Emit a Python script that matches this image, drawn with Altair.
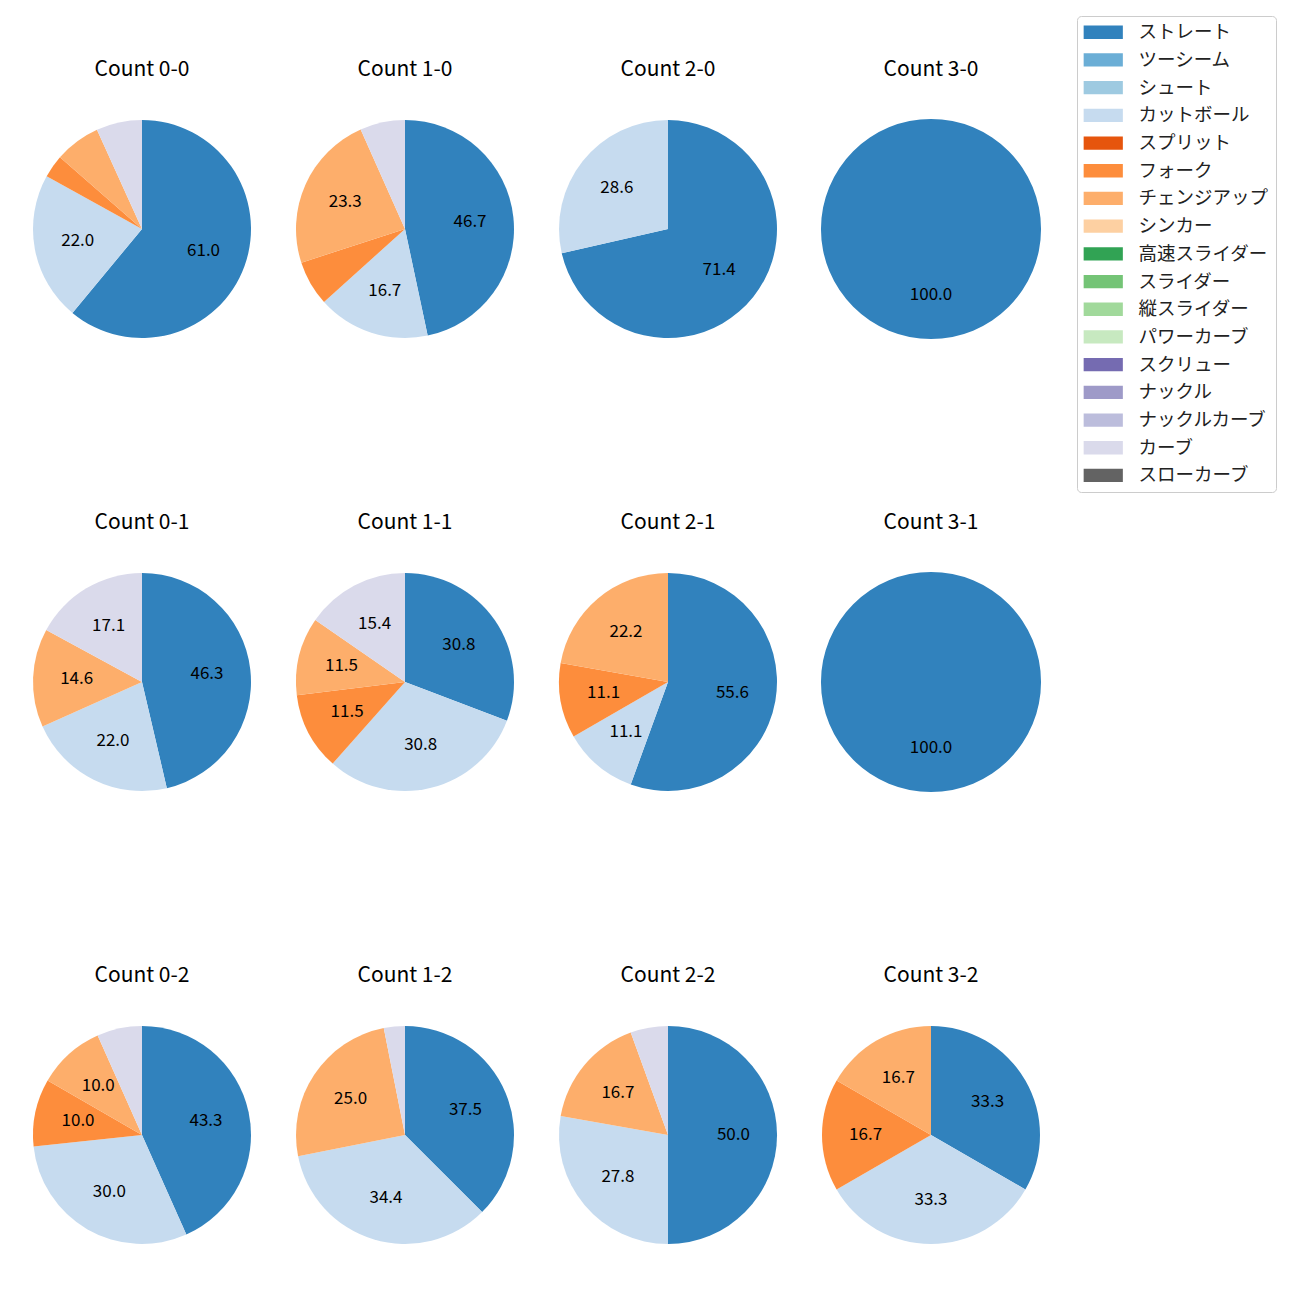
import altair as alt
import pandas as pd

counts = ["0-0", "1-0", "2-0", "3-0",
          "0-1", "1-1", "2-1", "3-1",
          "0-2", "1-2", "2-2", "3-2"]

pitch_types = ["ストレート", "ツーシーム", "シュート", "カットボール", "スプリット",
               "フォーク", "チェンジアップ", "シンカー", "高速スライダー", "スライダー",
               "縦スライダー", "パワーカーブ", "スクリュー", "ナックル", "ナックルカーブ",
               "カーブ", "スローカーブ"]

colors = ["#3182bd", "#6baed6", "#9ecae1", "#c6dbef", "#e6550d",
          "#fd8d3c", "#fdae6b", "#fdd0a2", "#31a354", "#74c476",
          "#a1d99b", "#c7e9c0", "#756bb1", "#9e9ac8", "#bcbddc",
          "#dadaeb", "#636363"]

# pitches per count (same order as counts)
straight = [36, 14, 5, 3, 19, 8, 5, 2, 13, 12, 9, 2]
cutball  = [13, 5, 2, 0, 9, 8, 1, 0, 9, 11, 5, 2]
fork     = [2, 2, 0, 0, 0, 3, 1, 0, 3, 0, 0, 1]
changeup = [4, 7, 0, 0, 6, 3, 2, 0, 3, 8, 3, 1]
curve    = [4, 2, 0, 0, 7, 4, 0, 0, 2, 1, 1, 0]

series = {"ストレート": straight, "カットボール": cutball, "フォーク": fork,
          "チェンジアップ": changeup, "カーブ": curve}

FONT = "Noto Sans CJK JP"

rows = []
for i, c in enumerate(counts):
    total = sum(v[i] for v in series.values())
    for j, p in enumerate(pitch_types):
        val = series[p][i] if p in series else 0
        pct = 100.0 * val / total
        rows.append({"count": c, "pitch": p, "idx": j, "value": val,
                     "label": f"{pct:.1f}" if pct >= 10 else ""})
df = pd.DataFrame(rows)

legend_path = "M-2.8,-0.95H2.8V0.95H-2.8Z"


def panel(c):
    d = df[df["count"] == c]
    r = 110 if c in ("3-0", "3-1") else 109
    base = alt.Chart(d).encode(
        theta=alt.Theta("value:Q", stack=True),
        order=alt.Order("idx:Q", sort="ascending"),
    )
    arc = base.mark_arc(outerRadius=r, stroke=None).encode(
        color=alt.Color(
            "pitch:N",
            scale=alt.Scale(domain=pitch_types, range=colors),
            sort=pitch_types,
            legend=alt.Legend(
                title=None, orient="none", legendX=1045, legendY=-103,
                symbolType=legend_path, symbolSize=196, symbolStrokeWidth=0,
                symbolOpacity=1, labelFontSize=18.5, labelFont=FONT,
                labelColor="#222", labelOffset=26, symbolOffset=10,
                rowPadding=8.7, padding=7, strokeColor="#cccccc",
                fillColor="white", cornerRadius=4, labelLimit=300,
            ),
        ),
    )
    txt = base.mark_text(radius=0.6 * r, fontSize=17, font=FONT,
                         color="black").encode(text="label:N")
    return (arc + txt).properties(
        width=220, height=220,
        title=alt.Title(f"Count {c}", fontSize=21, font=FONT,
                        fontWeight="normal", color="black", offset=39),
    )


grid_rows = []
for r in range(3):
    grid_rows.append(alt.hconcat(*[panel(c) for c in counts[r * 4:(r + 1) * 4]],
                                 spacing=43))

chart = alt.vconcat(*grid_rows, spacing=173).resolve_scale(
    theta="independent", color="shared"
).properties(
    padding={"left": 24, "top": 7, "right": 10, "bottom": 10}
).configure_view(stroke=None)

chart.save("out.html", embed_options={"renderer": "svg", "actions": False})
